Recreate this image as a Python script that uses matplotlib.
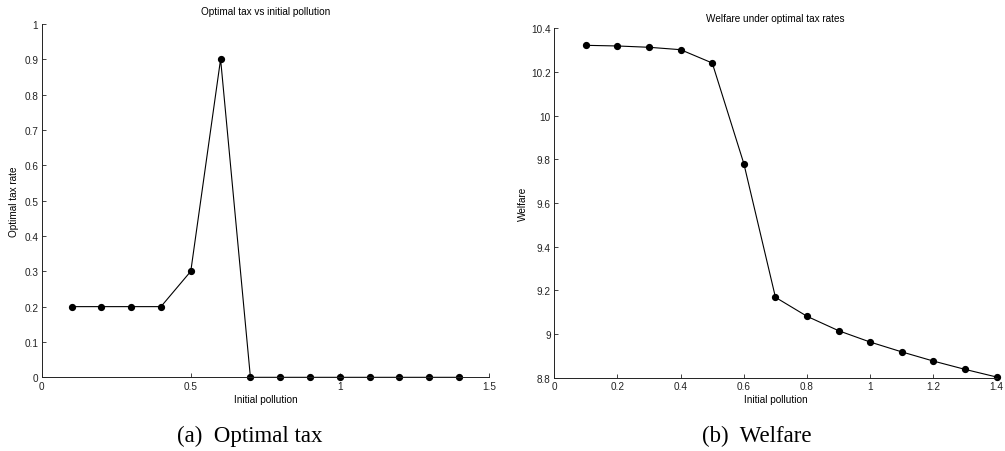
import matplotlib
matplotlib.use("Agg")
import matplotlib.pyplot as plt
from matplotlib.ticker import FormatStrFormatter, MultipleLocator

pollution = [0.1, 0.2, 0.3, 0.4, 0.5, 0.6, 0.7, 0.8, 0.9, 1.0, 1.1, 1.2, 1.3, 1.4]
tax_rate = [0.2, 0.2, 0.2, 0.2, 0.3, 0.9, 0.0, 0.0, 0.0, 0.0, 0.0, 0.0, 0.0, 0.0]
welfare = [10.322, 10.319, 10.313, 10.302, 10.241, 9.780, 9.168,
           9.081, 9.015, 8.963, 8.918, 8.876, 8.838, 8.803]

plt.rcParams['font.family'] = ['Liberation Sans', 'DejaVu Sans']
fs = 7.2

fig = plt.figure(figsize=(10.05, 4.52), dpi=100)


def style(ax):
    # matlab-like look: no box, inward ticks
    for s in ['top', 'right']:
        ax.spines[s].set_visible(False)
    for s in ['left', 'bottom']:
        ax.spines[s].set_linewidth(0.7)
        ax.spines[s].set_color('#222222')
    ax.tick_params(direction='in', length=3, width=0.6, labelsize=fs,
                   colors='#222222', top=False, right=False)
    ax.tick_params(axis='x', pad=2.5)
    ax.tick_params(axis='y', pad=2.5)
    ax.xaxis.set_major_formatter(FormatStrFormatter('%g'))
    ax.yaxis.set_major_formatter(FormatStrFormatter('%g'))


# (a) optimal tax
ax1 = fig.add_axes([0.0415, 0.163, 0.445, 0.782])
ax1.plot(pollution, tax_rate, color='black', lw=0.8, marker='o', ms=4.2, clip_on=False)
ax1.set_xlim(0, 1.5)
ax1.set_ylim(0, 1)
ax1.xaxis.set_major_locator(MultipleLocator(0.5))
ax1.yaxis.set_major_locator(MultipleLocator(0.1))
style(ax1)
ax1.set_title('Optimal tax vs initial pollution', fontsize=fs, pad=7)
ax1.set_xlabel('Initial pollution', fontsize=fs, labelpad=2)
ax1.set_ylabel('Optimal tax rate', fontsize=fs, labelpad=3.5)

# (b) welfare
ax2 = fig.add_axes([0.5515, 0.1622, 0.4402, 0.773])
ax2.plot(pollution, welfare, color='black', lw=0.8, marker='o', ms=4.2, clip_on=False)
ax2.set_xlim(0, 1.4)
ax2.set_ylim(8.8, 10.4)
ax2.xaxis.set_major_locator(MultipleLocator(0.2))
ax2.yaxis.set_major_locator(MultipleLocator(0.2))
style(ax2)
ax2.set_title('Welfare under optimal tax rates', fontsize=fs, pad=5)
ax2.set_xlabel('Initial pollution', fontsize=fs, labelpad=2)
ax2.set_ylabel('Welfare', fontsize=fs, labelpad=2.5)

fig.text(250 / 1005, 1 - 436 / 452, '(a)  Optimal tax', family='Liberation Serif',
         fontsize=16.5, ha='center', va='center')
fig.text(757 / 1005, 1 - 436 / 452, '(b)  Welfare', family='Liberation Serif',
         fontsize=16.5, ha='center', va='center')

fig.savefig('out.png', dpi=100)
